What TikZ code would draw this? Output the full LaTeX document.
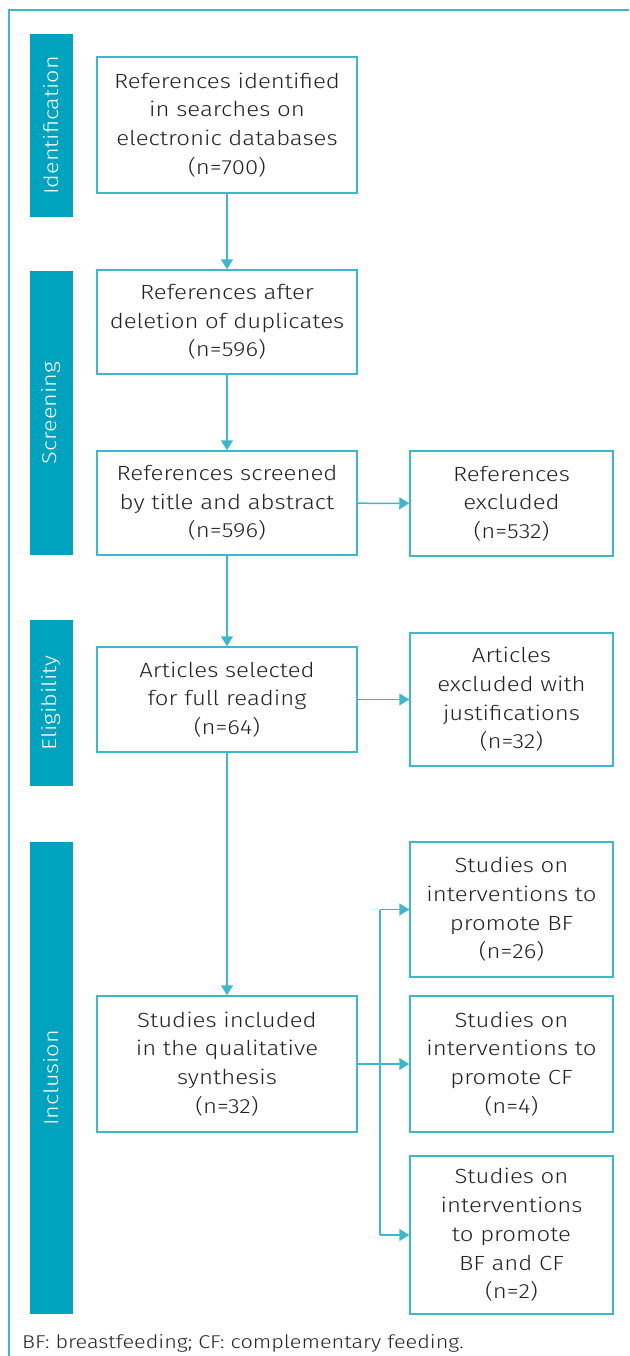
\documentclass[tikz,border=0pt]{standalone}
\usepackage{fontspec}
\setmainfont{Fira Sans Light}[FakeStretch=1.17]
\usetikzlibrary{arrows.meta}
\definecolor{barc}{HTML}{00A3BE}
\definecolor{linec}{HTML}{3DB7CC}
\definecolor{txtc}{HTML}{222222}
\tikzset{
  box/.style={draw=linec, line width=1.5pt, rectangle, align=center, text=txtc,
    font=\fontsize{20.5}{28.7}\selectfont, inner sep=0pt},
  sidebar/.style={fill=barc, draw=none, rectangle, minimum width=43pt, inner sep=0pt,
    text=white, font=\fontsize{20}{24}\selectfont},
  arr/.style={draw=linec, line width=1.5pt, -{Triangle[width=12pt,length=10pt]}},
  ln/.style={draw=linec, line width=1.5pt},
}
\begin{document}
\begin{tikzpicture}[x=1pt,y=-1pt]
\useasboundingbox (0,0) rectangle (629,1356);
\draw[draw=linec, line width=2pt] (9,1356) -- (9,10) -- (629,10);
% side bars
\node[sidebar, minimum height=183pt] (sid) at (51.5,125.5) {\rotatebox{90}{Identification}};
\node[sidebar, minimum height=284pt] (sscr) at (51.5,413) {\rotatebox{90}{Screening}};
\node[sidebar, minimum height=166pt] (selg) at (51.5,703) {\rotatebox{90}{Eligibility}};
\node[sidebar, minimum height=472pt] (sinc) at (51.5,1078) {\rotatebox{90}{Inclusion}};
% main boxes
\node[box, minimum width=260pt, minimum height=136pt] (b1) at (227,125) {References identified\\in searches on\\electronic databases\\(n=700)};
\node[box, minimum width=260pt, minimum height=104pt] (b2) at (227,322) {References after\\deletion of duplicates\\(n=596)};
\node[box, minimum width=260pt, minimum height=104pt] (b3) at (227,503) {References screened\\by title and abstract\\(n=596)};
\node[box, minimum width=260pt, minimum height=105pt] (b4) at (227,699.5) {Articles selected\\for full reading\\(n=64)};
\node[box, minimum width=260pt, minimum height=136pt] (b5) at (227,1064) {Studies included\\in the qualitative\\synthesis\\(n=32)};
% right boxes
\node[box, minimum width=203pt, minimum height=105pt] (r1) at (511.5,503.5) {References\\excluded\\(n=532)};
\node[box, minimum width=203pt, minimum height=133pt] (r2) at (511.5,699.5) {Articles\\excluded with\\justifications\\(n=32)};
\node[box, minimum width=203pt, minimum height=135pt] (r3) at (511.5,909.5) {Studies on\\interventions to\\promote BF\\(n=26)};
\node[box, minimum width=203pt, minimum height=136pt] (r4) at (511.5,1064) {Studies on\\interventions to\\promote CF\\(n=4)};
\node[box, minimum width=203pt, minimum height=158pt] (r5) at (511.5,1235) {Studies on\\interventions\\to promote\\BF and CF\\(n=2)};
% connectors
\draw[arr] (b1) -- (b2);
\draw[arr] (b2) -- (b3);
\draw[arr] (b3) -- (b4);
\draw[arr] (b4) -- (b5);
\draw[arr] (b3) -- (r1);
\draw[arr] (b4) -- (r2);
\draw[arr] (b5) -- (r4);
\coordinate (bt) at (380,909.5);
\coordinate (bb) at (380,1235);
\draw[ln] (bt) -- (bb);
\draw[arr] (bt) -- (r3.west);
\draw[arr] (bb) -- (r5.west);
% footnote
\node[anchor=base west, text=txtc, font=\fontsize{18.5}{22}\selectfont, inner sep=0pt] (foot) at (22,1348) {BF: breastfeeding; CF: complementary feeding.};
\end{tikzpicture}
\end{document}
